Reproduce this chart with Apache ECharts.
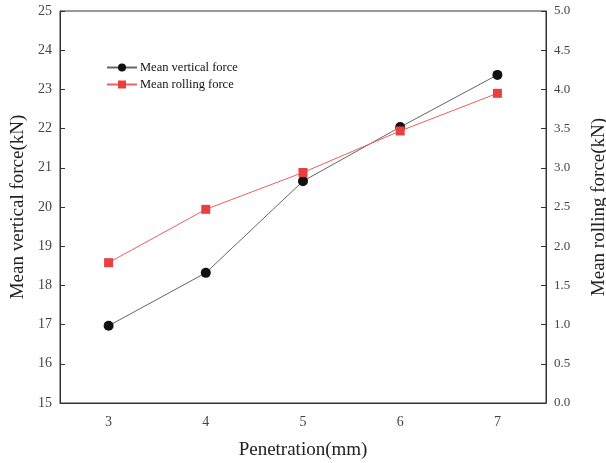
<!DOCTYPE html>
<html>
<head>
<meta charset="utf-8">
<script src="https://cdn.jsdelivr.net/npm/echarts@6/dist/echarts.min.js"></script>
<style>
  html, body { margin: 0; padding: 0; background: #fff; }
  #chart { width: 606px; height: 463px; }
</style>
</head>
<body>
<div id="chart"></div>
<script>
// penetration depth (mm)
const penetration = ['3', '4', '5', '6', '7'];
// mean vertical force (kN), left axis
const verticalForce = [16.97, 18.32, 20.66, 22.04, 23.37];
// mean rolling force (kN), right axis
const rollingForce = [1.79, 2.47, 2.94, 3.47, 3.95];

const font = 'Liberation Serif';
let chart = echarts.init(document.getElementById('chart'));

let option = {
    backgroundColor: '#fff',
    animation: false,
    grid: {
        left: 60, right: 60, top: 11, bottom: 60,
        outerBoundsMode: 'none',
        show: true, borderColor: '#333', borderWidth: 1
    },
    legend: {
        left: 101, top: 56, orient: 'vertical',
        itemWidth: 30, itemHeight: 10, itemGap: 4,
        textStyle: { fontFamily: font, fontSize: 12.5, color: '#111', padding: [0, 0, 0, -2] },
        data: ['Mean vertical force', 'Mean rolling force']
    },
    xAxis: {
        type: 'category',
        data: penetration,
        name: 'Penetration(mm)',
        nameLocation: 'middle',
        nameGap: 38,
        nameTextStyle: { fontFamily: font, fontSize: 19, color: '#222' },
        axisLine: { lineStyle: { color: '#333', width: 1 } },
        axisTick: { inside: true, alignWithLabel: true, length: 5, lineStyle: { color: '#333' } },
        axisLabel: { fontFamily: font, fontSize: 14, color: '#444', margin: 12 },
        splitLine: { show: false }
    },
    yAxis: [
        {
            type: 'value', min: 15, max: 25, interval: 1,
            name: 'Mean vertical force(kN)',
            nameLocation: 'middle', nameGap: 31,
            nameTextStyle: { fontFamily: font, fontSize: 19, color: '#222' },
            axisLine: { show: true, lineStyle: { color: '#333' } },
            axisTick: { show: true, inside: true, length: 5, lineStyle: { color: '#333' } },
            axisLabel: { fontFamily: font, fontSize: 14, color: '#444', margin: 8 },
            splitLine: { show: false }
        },
        {
            type: 'value', min: 0, max: 5, interval: 0.5,
            position: 'right',
            name: 'Mean rolling force(kN)',
            nameLocation: 'middle', nameGap: 44, nameRotate: 90,
            nameTextStyle: { fontFamily: font, fontSize: 19, color: '#222' },
            axisLine: { show: true, lineStyle: { color: '#333' } },
            axisTick: { show: true, inside: true, length: 5, lineStyle: { color: '#333' } },
            axisLabel: {
                fontFamily: font, fontSize: 13, color: '#444', margin: 8,
                formatter: v => v.toFixed(1)
            },
            splitLine: { show: false }
        }
    ],
    series: [
        {
            name: 'Mean vertical force',
            type: 'line',
            yAxisIndex: 0,
            data: verticalForce,
            symbol: 'circle',
            symbolSize: 10,
            itemStyle: { color: '#111' },
            lineStyle: { color: '#666', width: 1 }
        },
        {
            name: 'Mean rolling force',
            type: 'line',
            yAxisIndex: 1,
            data: rollingForce,
            symbol: 'rect',
            symbolSize: 9,
            itemStyle: { color: '#e8403f' },
            lineStyle: { color: '#ec6060', width: 1 }
        }
    ]
};

chart.setOption(option);
</script>
</body>
</html>
